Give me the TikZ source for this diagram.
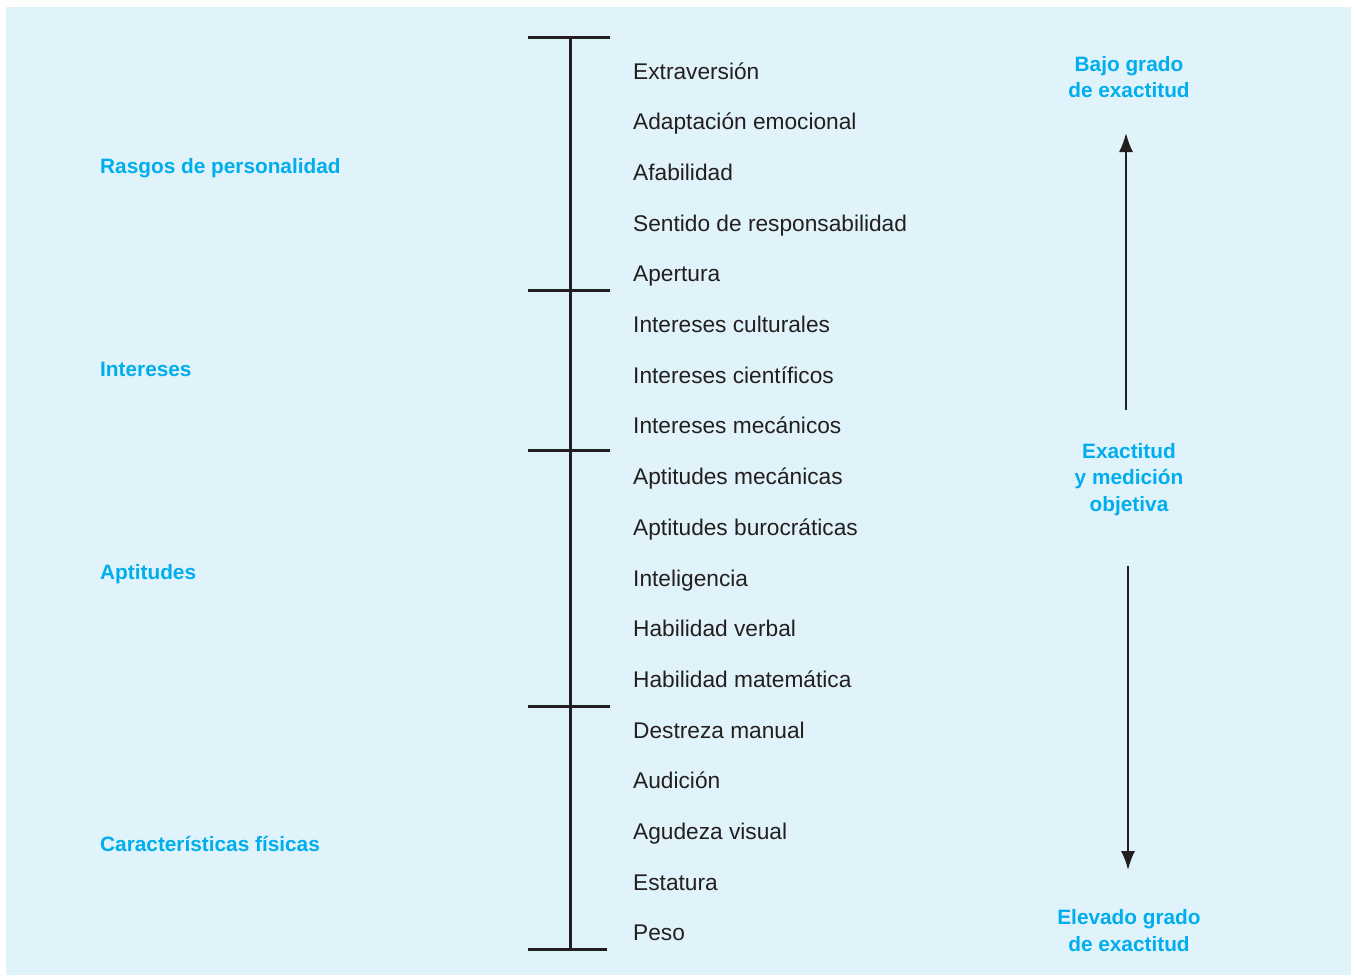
\documentclass[tikz,border=0pt]{standalone}
\usepackage{fontspec}
\setmainfont{Liberation Sans}
\usetikzlibrary{arrows.meta}
\definecolor{bgblue}{HTML}{E0F3FA}
\definecolor{hdblue}{HTML}{00AEEF}
\definecolor{ink}{HTML}{231F20}
\tikzset{
  item/.style={anchor=base west, inner sep=0pt, text=ink, font=\fontsize{22.7}{26}\selectfont},
  cat/.style={anchor=base west, inner sep=0pt, text=hdblue, font=\fontsize{20.8}{26}\selectfont\bfseries},
  side/.style={anchor=center, inner sep=0pt, text=hdblue, align=center, font=\fontsize{20.8}{26.5}\selectfont\bfseries},
  scale line/.style={line width=3pt, draw=ink},
  tick/.style={line width=3pt, draw=ink},
  sidearrow/.style={line width=1.8pt, draw=ink, -{Latex[length=19pt,width=14pt]}}
}
\begin{document}
\begin{tikzpicture}[x=1pt,y=-1pt]
\useasboundingbox (0,0) rectangle (1355,975);
\fill[bgblue] (6,7) rectangle (1351,975);
% main scale
\coordinate (top) at (570,37);
\coordinate (bot) at (570,949);
\draw[scale line] (top) -- (bot);
\foreach \y/\r in {37/610,290/610,450/610,706/610,949/607}{
  \draw[tick] (528,\y) -- (\r,\y);
}
% items
\node[item] (i1) at (633,79) {Extraversión};
\node[item] (i2) at (633,129.7) {Adaptación emocional};
\node[item] (i3) at (633,180.4) {Afabilidad};
\node[item] (i4) at (633,231.1) {Sentido de responsabilidad};
\node[item] (i5) at (633,281.8) {Apertura};
\node[item] (i6) at (633,332.5) {Intereses culturales};
\node[item] (i7) at (633,383.2) {Intereses científicos};
\node[item] (i8) at (633,433.9) {Intereses mecánicos};
\node[item] (i9) at (633,484.6) {Aptitudes mecánicas};
\node[item] (i10) at (633,535.3) {Aptitudes burocráticas};
\node[item] (i11) at (633,586) {Inteligencia};
\node[item] (i12) at (633,636.7) {Habilidad verbal};
\node[item] (i13) at (633,687.4) {Habilidad matemática};
\node[item] (i14) at (633,738.1) {Destreza manual};
\node[item] (i15) at (633,788.8) {Audición};
\node[item] (i16) at (633,839.5) {Agudeza visual};
\node[item] (i17) at (633,890.2) {Estatura};
\node[item] (i18) at (633,940.9) {Peso};
% categories
\node[cat] (c1) at (100,173.5) {Rasgos de personalidad};
\node[cat] (c2) at (100,376.5) {Intereses};
\node[cat] (c3) at (100,579.5) {Aptitudes};
\node[cat] (c4) at (100,851.5) {Características físicas};
% side labels
\node[side] (s1) at (1129,77) {Bajo grado\\de exactitud};
\node[side] (s2) at (1129,479.5) {Exactitud\\y medición\\objetiva};
\node[side] (s3) at (1129,930.5) {Elevado grado\\de exactitud};
% arrows
\coordinate (a1s) at (1126,410);
\coordinate (a1e) at (1126,133);
\coordinate (a2s) at (1128,566);
\coordinate (a2e) at (1128,870);
\draw[sidearrow] (a1s) -- (a1e);
\draw[sidearrow] (a2s) -- (a2e);
\end{tikzpicture}
\end{document}
